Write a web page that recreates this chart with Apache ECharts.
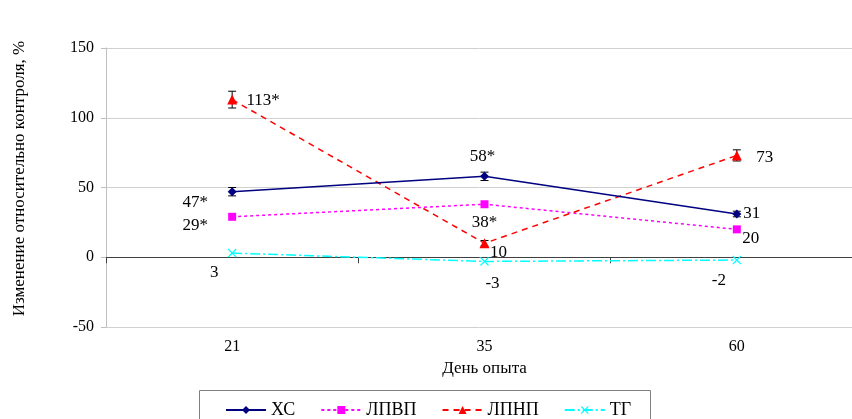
<!DOCTYPE html>
<html><head><meta charset="utf-8">
<script src="https://cdn.jsdelivr.net/npm/echarts@6/dist/echarts.min.js"></script>
<style>html,body{margin:0;padding:0;background:#fff}#c{width:852px;height:419px}</style>
</head><body><div id="c"></div>
<script>
const days = ['21', '35', '60'];
const seriesNames = ['ХС', 'ЛПВП', 'ЛПНП', 'ТГ'];
const hs = [47, 58, 31];
const lpvp = [29, 38, 20];
const lpnp = [113, 10, 73];
const tg = [3, -3, -2];
const hsErr = [3, 3, 2];
const lpvpErr = [1, 1, 1];
const lpnpErr = [6, 2, 4];
const tgErr = [1, 1, 1];
const hsSig = [true, true, false];
const lpvpSig = [true, true, false];
const lpnpSig = [true, false, false];
const tgSig = [false, false, false];
const yTicks = [-50, 0, 50, 100, 150];

const FONT = 'Liberation Serif';
const labelOffsets = {
  'ХС': [[-37, 11], [-2, -20], [15, 0]],
  'ЛПВП': [[-37, 9], [0, 18], [14, 9]],
  'ЛПНП': [[31, 1], [14, 9], [28, 2]],
  'ТГ': [[-18, 19], [8, 22], [-18, 20]]
};

function mkData(name, vals, sig) {
  return vals.map((v, i) => ({
    value: v,
    label: {
      show: true, position: 'inside', offset: labelOffsets[name][i],
      align: 'center', verticalAlign: 'middle',
      fontFamily: FONT, fontSize: 17, color: '#000',
      formatter: () => String(v) + (sig[i] ? '*' : '')
    }
  }));
}

function errSeries(vals, errs, color) {
  return {
    type: 'custom', silent: true, z: 1,
    data: vals.map((v, i) => [i, v - errs[i], v + errs[i]]),
    renderItem: function (params, api) {
      const lo = api.coord([api.value(0), api.value(1)]);
      const hi = api.coord([api.value(0), api.value(2)]);
      const w = 4;
      const st = { stroke: color, lineWidth: 1 };
      return { type: 'group', children: [
        { type: 'line', shape: { x1: lo[0], y1: lo[1], x2: hi[0], y2: hi[1] }, style: st },
        { type: 'line', shape: { x1: lo[0] - w, y1: lo[1], x2: lo[0] + w, y2: lo[1] }, style: st },
        { type: 'line', shape: { x1: hi[0] - w, y1: hi[1], x2: hi[0] + w, y2: hi[1] }, style: st }
      ]};
    }
  };
}

const xSym = 'path://M0,1L1,0L5,4L9,0L10,1L6,5L10,9L9,10L5,6L1,10L0,9L4,5Z';

const chart = echarts.init(document.getElementById('c'), null, { renderer: 'canvas' });
chart.setOption({
  animation: false,
  backgroundColor: '#fff',
  textStyle: { fontFamily: FONT },
  grid: { left: 106, top: 48, width: 757, height: 279, containLabel: false, outerBoundsMode: 'none' },
  legend: {
    left: 220, top: 396, itemWidth: 40, itemHeight: 10, itemGap: 25,
    textStyle: { fontFamily: FONT, fontSize: 18, color: '#000' },
    data: seriesNames
  },
  graphic: [{ type: 'rect', shape: { x: 199.5, y: 390.5, width: 451, height: 40 },
    style: { fill: 'none', stroke: '#808080', lineWidth: 1 }, silent: true }],
  xAxis: {
    type: 'category', data: days, boundaryGap: true,
    axisLine: { onZero: true, lineStyle: { color: '#404040', width: 1 } },
    axisTick: { show: true, length: 6, lineStyle: { color: '#404040' } },
    axisLabel: { margin: 12, fontFamily: FONT, fontSize: 16, color: '#000' },
    name: 'День опыта', nameLocation: 'middle', nameGap: 32,
    nameTextStyle: { fontFamily: FONT, fontSize: 17, color: '#000' },
    splitLine: { show: false }
  },
  yAxis: {
    type: 'value', min: yTicks[0], max: yTicks[yTicks.length - 1], interval: 50,
    axisLine: { show: true, lineStyle: { color: '#BFBFBF' } },
    axisTick: { show: true, length: 5, lineStyle: { color: '#BFBFBF' } },
    axisLabel: { margin: 12, fontFamily: FONT, fontSize: 16, color: '#000' },
    splitLine: { show: true, lineStyle: { color: '#D0D0D0', width: 1 } },
    name: 'Изменение относительно контроля, %', nameLocation: 'middle', nameGap: 78,
    nameRotate: 90,
    nameTextStyle: { fontFamily: FONT, fontSize: 17, color: '#000', padding: [0, 0, 0, 18] }
  },
  series: [
    errSeries(hs, hsErr, '#000000'),
    errSeries(lpnp, lpnpErr, '#000000'),
    {
      name: 'ХС', type: 'line', data: mkData('ХС', hs, hsSig), z: 5,
      symbol: 'diamond', symbolSize: 9,
      itemStyle: { color: '#000080' }, lineStyle: { color: '#000080', width: 1.5 }
    },
    {
      name: 'ЛПВП', type: 'line', data: mkData('ЛПВП', lpvp, lpvpSig), z: 4,
      symbol: 'rect', symbolSize: 8,
      itemStyle: { color: '#FF00FF' }, lineStyle: { color: '#FF00FF', width: 1.5, type: [3, 3] }
    },
    {
      name: 'ЛПНП', type: 'line', data: mkData('ЛПНП', lpnp, lpnpSig), z: 4,
      symbol: 'triangle', symbolSize: 10,
      itemStyle: { color: '#FF0000' }, lineStyle: { color: '#FF0000', width: 1.5, type: [6, 5] }
    },
    {
      name: 'ТГ', type: 'line', data: mkData('ТГ', tg, tgSig), z: 4,
      symbol: xSym, symbolSize: 9,
      itemStyle: { color: '#00FFFF' }, lineStyle: { color: '#00FFFF', width: 1.5, type: [10, 3, 2, 3] }
    }
  ]
});
</script></body></html>
